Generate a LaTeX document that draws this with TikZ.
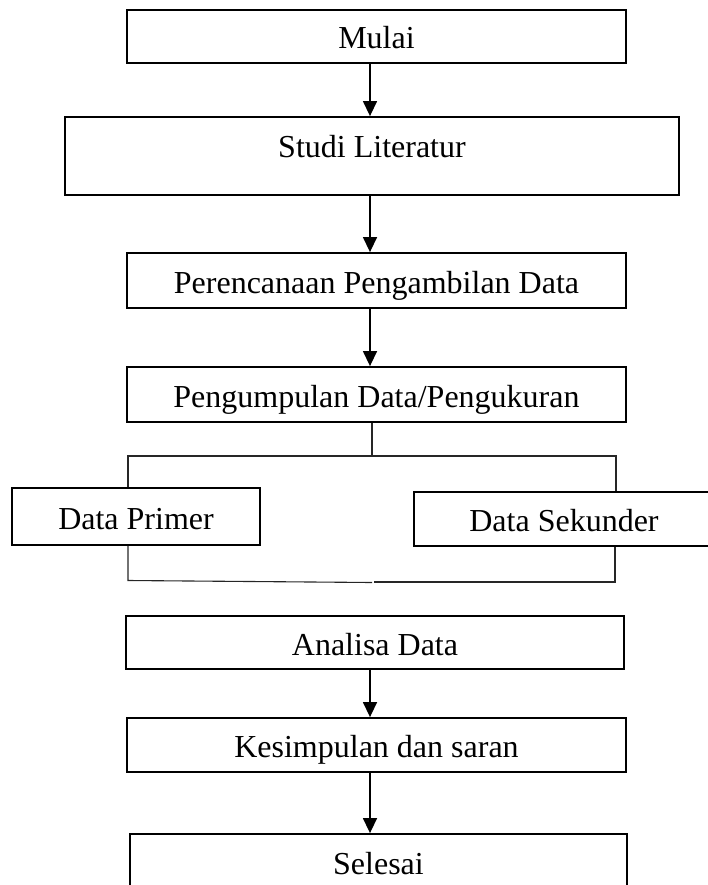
\documentclass[tikz,border=0pt]{standalone}
\usepackage{fontspec}
\setmainfont{Liberation Serif}
\usetikzlibrary{arrows.meta}
\begin{document}
\begin{tikzpicture}[x=1pt,y=-1pt,
kotak/.style={draw,line width=1.8pt,inner sep=0pt,text height=25pt,text depth=0pt,font=\fontsize{32}{36}\selectfont},
arr/.style={line width=1.4pt,-{Triangle[width=14pt,length=15pt]}},
cabang/.style={line width=1.1pt,black!85}]
\useasboundingbox (0,0) rectangle (708,885);
\def\w{499}
\node[kotak,minimum width=\w,minimum height=53] (mulai) at (376.5,36.5) {Mulai};
\node[kotak,minimum width=614,minimum height=78,text depth=21.5pt] (studi) at (372,156) {Studi Literatur};
\node[kotak,minimum width=\w,minimum height=55] (renc) at (376.5,280.5) {Perencanaan Pengambilan Data};
\node[kotak,minimum width=\w,minimum height=55] (kumpul) at (376.5,394.5) {Pengumpulan Data/Pengukuran};
\node[kotak,minimum width=248,minimum height=57] (primer) at (136,516.5) {Data Primer};
\node[kotak,minimum width=300,minimum height=54] (sekunder) at (564,519) {Data Sekunder};
\node[kotak,minimum width=498,minimum height=53] (analisa) at (375,642.5) {Analisa Data};
\node[kotak,minimum width=\w,minimum height=54] (simpul) at (376.5,745) {Kesimpulan dan saran};
\node[kotak,minimum width=497,minimum height=56] (selesai) at (378.5,862) {Selesai};
\coordinate (ax) at (370,0);
\foreach \a/\b in {mulai/studi,studi/renc,renc/kumpul,analisa/simpul,simpul/selesai}{
\draw[arr] (\a.south -| ax) -- (\b.north -| ax);
}
\coordinate (bt) at (372,456);
\coordinate (bl) at (128,456);
\coordinate (br) at (616,456);
\coordinate (dl) at (128,580.5);
\coordinate (dm1) at (372,582.5);
\coordinate (dm2) at (374,582);
\coordinate (dr) at (615,582);
\draw[cabang] (kumpul.south -| bt) -- (bt);
\draw[cabang] (primer.north -| bl) |- (br) -- (sekunder.north -| br);
\draw[cabang] (primer.south -| dl) -- (dl) -- (dm1);
\draw[cabang] (dm2) -- (dr) -- (sekunder.south -| dr);
\end{tikzpicture}
\end{document}
